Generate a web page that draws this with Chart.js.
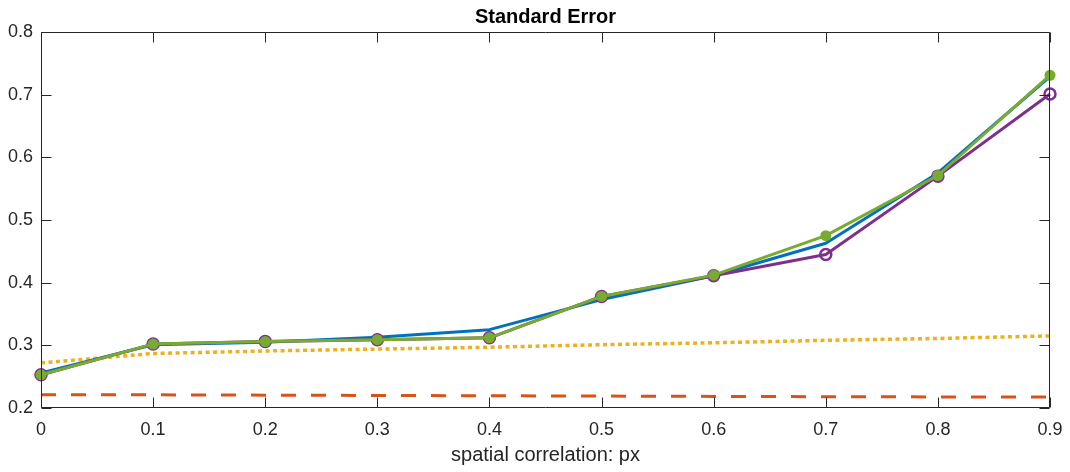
<!DOCTYPE html>
<html>
<head>
<meta charset="utf-8">
<script src="https://cdn.jsdelivr.net/npm/chart.js@4/dist/chart.umd.min.js"></script>
<style>
  body { margin: 0; background: #fff; }
  canvas { display: block; }
</style>
</head>
<body>
<canvas id="seChart" width="1070" height="472"></canvas>
<script>
// values
const px = [0, 0.1, 0.2, 0.3, 0.4, 0.5, 0.6, 0.7, 0.8, 0.9]
const blueSE   = [0.256, 0.301, 0.305, 0.313, 0.325, 0.373, 0.411, 0.463, 0.575, 0.729]
const purpleSE = [0.253, 0.302, 0.306, 0.309, 0.312, 0.378, 0.411, 0.445, 0.570, 0.701]
const greenSE  = [0.253, 0.302, 0.306, 0.309, 0.312, 0.378, 0.412, 0.475, 0.571, 0.731]
const dottedSE = [0.272, 0.287, 0.291, 0.294, 0.297, 0.301, 0.304, 0.308, 0.311, 0.315]
const dashedSE = [0.221, 0.221, 0.2205, 0.220, 0.2195, 0.219, 0.2185, 0.218, 0.2177, 0.2175]

const xTicks = [0, 0.1, 0.2, 0.3, 0.4, 0.5, 0.6, 0.7, 0.8, 0.9]
const xTickLabels = ['0', '0.1', '0.2', '0.3', '0.4', '0.5', '0.6', '0.7', '0.8', '0.9']
const yTicks = [0.2, 0.3, 0.4, 0.5, 0.6, 0.7, 0.8]
const yTickLabels = ['0.2', '0.3', '0.4', '0.5', '0.6', '0.7', '0.8']

const chartTitle = 'Standard Error'
const xTitle = 'spatial correlation: px'

const FONT = "'Liberation Sans', Arial, Helvetica, sans-serif"
const TEXT = '#262626'

function pts(ys){
    return px.map((x, i) => ({x: x, y: ys[i]}))
}

// box around plot + inward tick marks on all four sides
const boxTicks = {
    id: 'boxTicks',
    afterDatasetsDraw(chart){
        const ctx = chart.ctx
        const a = chart.chartArea
        const xs = chart.scales.x, ys = chart.scales.y
        const L = Math.round(a.left) + 0.5, R = Math.round(a.right) - 0.5
        const T = Math.round(a.top) + 0.5, B = Math.round(a.bottom) - 0.5
        const len = 10
        ctx.save()
        ctx.strokeStyle = TEXT
        ctx.lineWidth = 1
        ctx.beginPath()
        ctx.rect(L, T, R - L, B - T)
        xTicks.forEach(v => {
            const p = Math.round(xs.getPixelForValue(v)) + 0.5
            ctx.moveTo(p, B); ctx.lineTo(p, B - len)
            ctx.moveTo(p, T); ctx.lineTo(p, T + len)
        })
        yTicks.forEach(v => {
            const p = Math.round(ys.getPixelForValue(v)) + 0.5
            ctx.moveTo(L, p); ctx.lineTo(L + len, p)
            ctx.moveTo(R, p); ctx.lineTo(R - len, p)
        })
        ctx.stroke()
        ctx.restore()
    }
}

// no extra label overhang padding; layout padding decides the plot box
function fixH(h){
    return s => { s.height = h; s.paddingLeft = 0; s.paddingRight = 0 }
}

const ctx = document.getElementById('seChart').getContext('2d')
const myChart = new Chart(ctx, {
    type: 'line',
    data: {
        datasets: [
            {
                label: 'green',
                data: pts(greenSE),
                borderColor: '#77AC30',
                backgroundColor: '#77AC30',
                borderWidth: 3,
                pointRadius: 5.5,
                pointBorderWidth: 0,
                pointBackgroundColor: '#77AC30',
                borderJoinStyle: 'round',
                clip: false
            },
            {
                label: 'purple',
                data: pts(purpleSE),
                borderColor: '#7E2F8E',
                borderWidth: 3,
                pointRadius: 5.5,
                pointBorderWidth: 2.5,
                pointBorderColor: '#7E2F8E',
                pointBackgroundColor: 'rgba(0,0,0,0)',
                borderJoinStyle: 'round',
                clip: false
            },
            {
                label: 'blue',
                data: pts(blueSE),
                borderColor: '#0072BD',
                borderWidth: 3,
                pointRadius: 0,
                borderJoinStyle: 'round',
                clip: false
            },
            {
                label: 'dotted',
                data: pts(dottedSE),
                borderColor: '#EDB120',
                borderWidth: 3.5,
                borderDash: [4, 3.5],
                pointRadius: 0,
                clip: false
            },
            {
                label: 'dashed',
                data: pts(dashedSE),
                borderColor: '#D95319',
                borderWidth: 3,
                borderDash: [15, 15],
                pointRadius: 0,
                clip: false
            }
        ]
    },
    options: {
        responsive: false,
        animation: false,
        events: [],
        elements: { line: { tension: 0 } },
        layout: { padding: { left: 0, right: 20, top: 0, bottom: 0 } },
        plugins: {
            legend: { display: false },
            tooltip: { enabled: false },
            title: { display: false }
        },
        scales: {
            x: {
                type: 'linear',
                min: 0,
                max: 0.9,
                grid: { display: false, drawTicks: false },
                border: { display: false },
                afterBuildTicks: s => { s.ticks = xTicks.map(v => ({value: v})) },
                afterFit: fixH(64),
                ticks: {
                    color: TEXT,
                    font: { family: FONT, size: 18 },
                    padding: 11,
                    maxRotation: 0,
                    callback: (v, i) => xTickLabels[i]
                },
                title: {
                    display: true,
                    text: xTitle,
                    color: TEXT,
                    font: { family: FONT, size: 20 },
                    padding: { top: 0, bottom: 5 }
                }
            },
            // top axis only carries the title, so it centres over the plot box
            xTop: {
                type: 'linear',
                position: 'top',
                min: 0,
                max: 0.9,
                grid: { display: false, drawTicks: false },
                border: { display: false },
                ticks: { display: false },
                afterFit: fixH(32),
                title: {
                    display: true,
                    text: chartTitle,
                    color: '#000',
                    font: { family: FONT, size: 20, weight: 'bold' },
                    padding: { top: 5, bottom: 0 }
                }
            },
            y: {
                min: 0.2,
                max: 0.8,
                grid: { display: false, drawTicks: false },
                border: { display: false },
                afterBuildTicks: s => { s.ticks = yTicks.map(v => ({value: v})) },
                afterFit: s => { s.width = 41; s.paddingTop = 0; s.paddingBottom = 0 },
                ticks: {
                    color: TEXT,
                    font: { family: FONT, size: 18 },
                    padding: 8,
                    callback: (v, i) => yTickLabels[i]
                }
            }
        }
    },
    plugins: [boxTicks]
})
</script>
</body>
</html>
